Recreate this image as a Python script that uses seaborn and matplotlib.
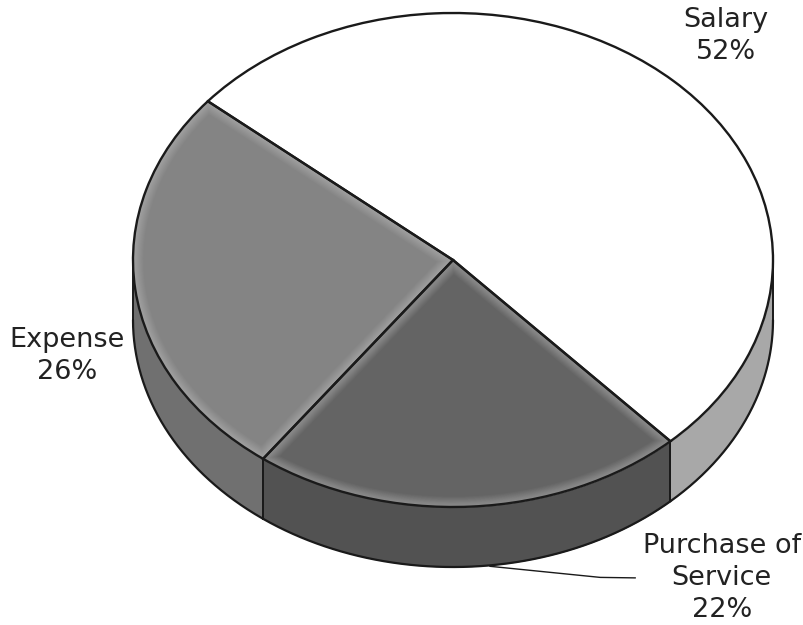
import numpy as np
import matplotlib
matplotlib.use("Agg")
import matplotlib.pyplot as plt
import seaborn as sns

categories = ["Expense", "Purchase of\nService", "Salary"]
values = [26, 22, 52]
top_colors = ["#848484", "#646464", "#ffffff"]
wall_colors = ["#707070", "#525252", "#a8a8a8"]

sns.set_theme(style="white")
plt.rcParams['font.family'] = ['DejaVu Sans']

fig = plt.figure(figsize=(8.04, 6.25), dpi=100)
ax = fig.add_axes([0, 0, 1, 1])
line = "#1a1a1a"
start = 140
depth = 0.243

# side wall of the disc
edges = start + np.cumsum([0] + values) * 3.6
for i, c in enumerate(wall_colors):
    lo, hi = max(edges[i], 180), min(edges[i + 1], 360)
    t = np.radians(np.linspace(lo, hi, 200))
    x, y = np.cos(t), np.sin(t)
    ax.fill_between(x, y, y - depth, color=c, lw=0, zorder=1)
    ax.plot(x, y - depth, color=line, lw=1.6, zorder=2)
    for a in (lo, hi):
        ax.plot([np.cos(np.radians(a))] * 2,
                [np.sin(np.radians(a)), np.sin(np.radians(a)) - depth],
                color=line, lw=1.4, zorder=2)

# flat top faces
ax.pie(values, colors=top_colors, startangle=start, counterclock=True,
       wedgeprops=dict(edgecolor="none", linewidth=0, zorder=3))

# soft light band along the inside of every face edge
for width in np.arange(15, 1, -1):
    glow, _ = ax.pie(values, startangle=start, counterclock=True,
                     wedgeprops=dict(facecolor="none", edgecolor=(1, 1, 1, 0.025),
                                     linewidth=width, zorder=4))
    for w in glow:
        w.set_clip_on(True)
        w.set_clip_path(w)

# outlines
ax.pie(values, startangle=start, counterclock=True,
       wedgeprops=dict(facecolor="none", edgecolor=line, linewidth=1.7, zorder=5))

ax.set_aspect("auto")
ax.set_xlim(-453 / 320, 351 / 320)
ax.set_ylim(-365 / 247, 260 / 247)
ax.axis("off")

fs = 19.5
tc = "#222222"
ls = 1.3
ax.text(0.853, 0.907, "Salary\n52%", ha="center", va="center", fontsize=fs, color=tc, zorder=6, linespacing=ls)
ax.text(-1.206, -0.389, "Expense\n26%", ha="center", va="center", fontsize=fs, color=tc, zorder=6, linespacing=ls)
ax.text(0.84, -1.287, "Purchase of\nService\n22%", ha="center", va="center", fontsize=fs, color=tc, zorder=6, linespacing=ls)
ax.plot([0.115, 0.46, 0.57], [-1.24, -1.285, -1.287], color=line, lw=1, zorder=6)

fig.savefig("out.png", dpi=100)
